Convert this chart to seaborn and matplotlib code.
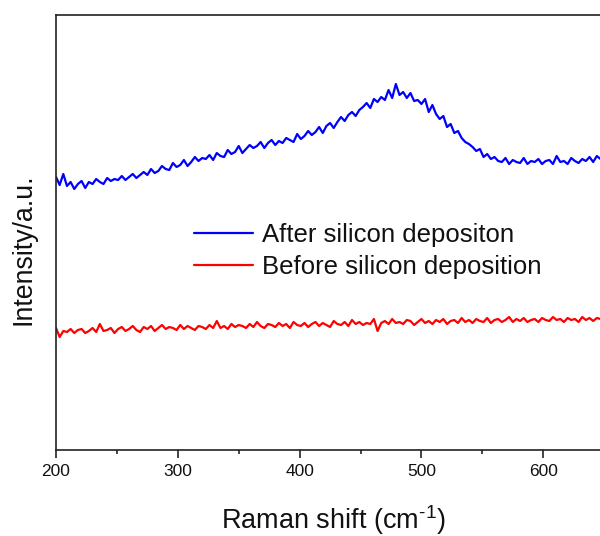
import numpy as np
import pandas as pd
import matplotlib
matplotlib.use("Agg")
import matplotlib.pyplot as plt
from matplotlib.ticker import MultipleLocator
import seaborn as sns

# ---- data (intensity in arbitrary units) ----
shift_start = 200
shift_step = 3

after_label = "After silicon depositon"
before_label = "Before silicon deposition"

after_intensity = [
    273, 265, 276, 264, 268, 261, 266, 269, 262, 268, 266, 271, 268, 266, 272, 269, 271, 270, 274, 270,
    273, 276, 272, 275, 278, 275, 281, 277, 279, 284, 281, 280, 287, 283, 285, 290, 284, 288, 293, 289,
    292, 291, 295, 290, 297, 294, 293, 300, 296, 298, 304, 297, 301, 305, 302, 304, 308, 302, 307, 310,
    305, 309, 307, 312, 310, 308, 316, 311, 314, 319, 315, 318, 323, 317, 324, 327, 322, 328, 333, 329,
    335, 338, 334, 340, 343, 347, 342, 351, 348, 353, 350, 360, 352, 366, 355, 358, 352, 357, 349, 350,
    346, 351, 338, 345, 336, 331, 334, 323, 326, 317, 319, 312, 308, 306, 303, 299, 301, 293, 296, 291,
    293, 289, 288, 292, 286, 290, 288, 287, 292, 286, 289, 288, 291, 286, 289, 290, 286, 294, 288, 289,
    286, 292, 289, 287, 291, 289, 293, 288, 294, 291,
]

before_intensity = [
    122, 113, 119, 118, 121, 117, 120, 121, 117, 119, 122, 118, 126, 119, 120, 122, 117, 121, 123, 119,
    121, 124, 120, 118, 123, 121, 124, 119, 122, 125, 121, 123, 122, 120, 125, 121, 124, 122, 120, 124,
    123, 121, 125, 122, 129, 122, 124, 121, 126, 123, 125, 124, 122, 126, 123, 128, 124, 122, 126, 125,
    123, 127, 124, 126, 122, 128, 125, 124, 127, 123, 126, 128, 124, 127, 125, 123, 129, 126, 125, 128,
    124, 130, 126, 128, 125, 127, 126, 131, 119, 127, 129, 126, 131, 127, 128, 126, 130, 129, 125, 128,
    131, 127, 129, 126, 130, 128, 131, 126, 129, 130, 127, 132, 128, 130, 127, 131, 129, 128, 132, 127,
    130, 131, 128, 130, 133, 128, 131, 129, 132, 128, 130, 131, 128, 132, 130, 129, 133, 130, 131, 128,
    132, 130, 131, 128, 133, 130, 132, 129, 132, 131,
]

x_major_ticks = [200, 300, 400, 500, 600]
x_limits = (200, 646.6)
y_limits = (0, 435)

frames = []
for label, vals in [(after_label, after_intensity), (before_label, before_intensity)]:
    shift = shift_start + shift_step * np.arange(len(vals))
    frames.append(pd.DataFrame({"Raman shift": shift, "Intensity": vals, "Sample": label}))
df = pd.concat(frames, ignore_index=True)

# ---- style ----
sns.set_theme(style="ticks")
plt.rcParams["font.family"] = ["Liberation Sans", "DejaVu Sans"]
plt.rcParams["mathtext.fontset"] = "custom"
plt.rcParams["mathtext.rm"] = "Liberation Sans"
plt.rcParams["mathtext.it"] = "Liberation Sans"
plt.rcParams["mathtext.default"] = "regular"

fig = plt.figure(figsize=(6.0, 5.36), dpi=100)
ax = fig.add_axes([56 / 600, 86 / 536, 544 / 600, 435 / 536])

sns.lineplot(
    data=df, x="Raman shift", y="Intensity", hue="Sample",
    palette={after_label: "#0000ff", before_label: "#ff0000"},
    linewidth=1.6, ax=ax, legend=True,
)

ax.set_xlim(*x_limits)
ax.set_ylim(*y_limits)
ax.set_xticks(x_major_ticks)
ax.xaxis.set_minor_locator(MultipleLocator(50))
ax.set_yticks([])
ax.tick_params(axis="x", which="major", direction="out", length=6, width=1.1,
               labelsize=12.5, pad=4, colors="#111111")
ax.tick_params(axis="x", which="minor", direction="out", length=3, width=1.1, colors="#111111")

for side in ["left", "bottom", "top"]:
    ax.spines[side].set_visible(True)
    ax.spines[side].set_linewidth(1.2)
    ax.spines[side].set_color("#222222")
ax.spines["right"].set_visible(False)

ax.set_xlabel(r"Raman shift (cm$^{\text{-}1}$)", fontsize=19.5, color="#111111", va="center")
ax.xaxis.set_label_coords(0.509, -0.161)
ax.set_ylabel("Intensity/a.u.", fontsize=19.3, color="#111111", va="center")
ax.yaxis.set_label_coords(-0.0597, 0.462)

leg = ax.legend(
    loc="upper left", bbox_to_anchor=((194 - 56) / 544, (450 - 223) / 435),
    frameon=False, fontsize=18.5, handlelength=2.3, handletextpad=0.35,
    labelspacing=0.3, borderpad=0, borderaxespad=0,
)
for text in leg.get_texts():
    text.set_color("#111111")
for line in leg.get_lines():
    line.set_linewidth(1.6)

fig.savefig("out.png", dpi=100)
